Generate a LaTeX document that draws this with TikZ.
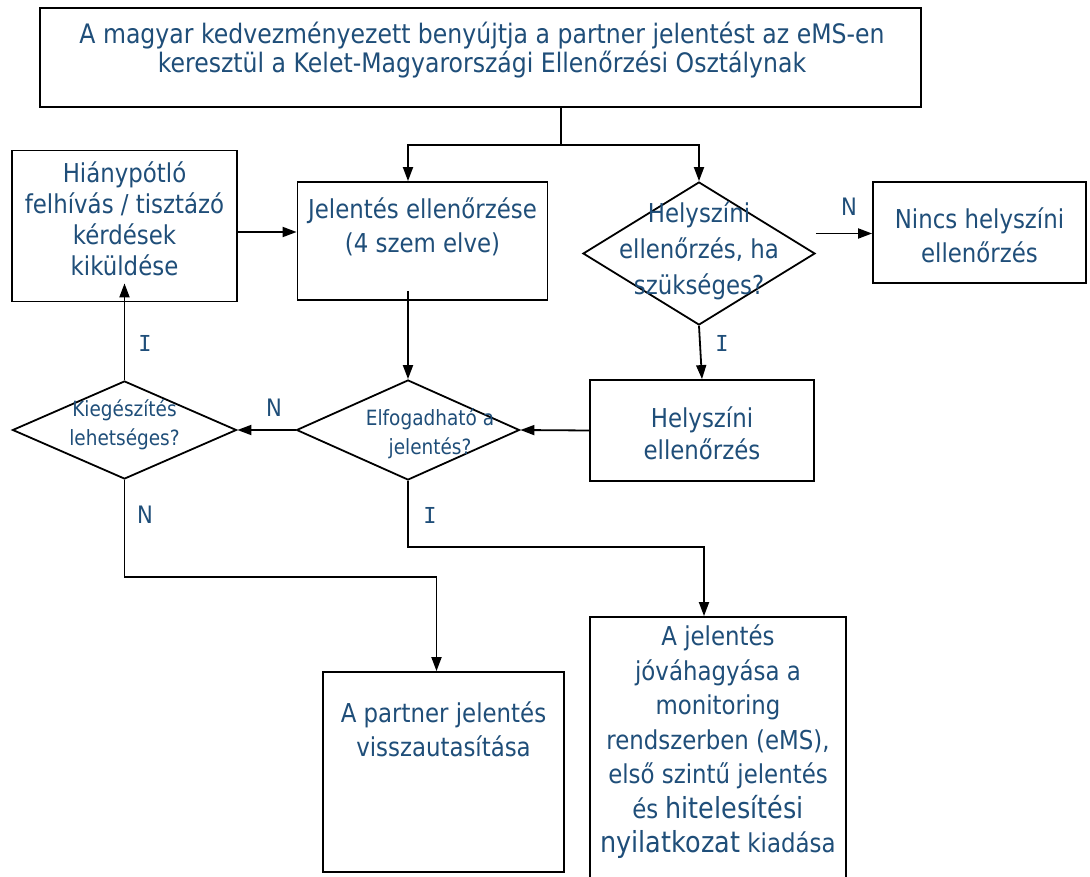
\documentclass[tikz,border=0pt]{standalone}
\usepackage{fontspec}
\setmainfont{DejaVu Sans}[FakeStretch=0.88]
\newfontfamily\labI{DejaVu Sans Mono}
\usetikzlibrary{shapes.geometric,arrows.meta,calc}
\definecolor{txt}{RGB}{31,78,121}
\newcommand\bigw[1]{{\fontsize{29}{34.5}\selectfont #1}}
\begin{document}
\begin{tikzpicture}[x=1pt,y=-1pt,
 box/.style={draw,line width=1.8pt,inner sep=0pt},
 dia/.style={draw,diamond,line width=1.8pt,inner sep=0pt},
 arr/.style={line width=1.8pt,-{Triangle[length=14pt,width=10pt]}},
 ln/.style={line width=1.8pt},
 t/.style={text=txt,align=center,font=\fontsize{26}{32}\selectfont,inner sep=0pt},
 ts/.style={text=txt,align=center,font=\fontsize{21}{29}\selectfont,inner sep=0pt},
 lab/.style={text=txt,font=\fontsize{24}{24}\selectfont,inner sep=0pt},
 labi/.style={text=txt,font=\labI\fontsize{22}{24}\selectfont,inner sep=0pt}]
\useasboundingbox (0,0) rectangle (1090,877);
\fill[white] (0,0) rectangle (1090,877);

% boxes
\node[box,minimum width=881pt,minimum height=99pt] (top) at (480.5,57.5) {};
\node[t,font=\fontsize{26.8}{28.5}\selectfont] (toptxt) at (482,50) {A magyar kedvezményezett benyújtja a partner jelentést az eMS-en\\keresztül a Kelet-Magyarországi Ellenőrzési Osztálynak};

\node[box,minimum width=225pt,minimum height=151pt] (hiany) at (124.5,226) {};
\node[t,font=\fontsize{26}{31}\selectfont] (hiantxt) at (124.5,219) {Hiánypótló\\felhívás / tisztázó\\kérdések\\kiküldése};

\node[box,minimum width=250pt,minimum height=118pt] (jel) at (422.5,241) {};
\node[t,font=\fontsize{26}{34}\selectfont] (jeltxt) at (422.5,227) {Jelentés ellenőrzése\\(4 szem elve)};

\node[dia,minimum width=232pt,minimum height=143pt] (hdia) at (699,253.5) {};
\node[t,font=\fontsize{26}{36}\selectfont] (hdiatxt) at (699,251) {Helyszíni\\ellenőrzés, ha\\szükséges?};

\node[box,minimum width=213pt,minimum height=101pt] (nincs) at (979.5,232.5) {};
\node[t,font=\fontsize{26}{34}\selectfont] (nincstxt) at (979.5,235) {Nincs helyszíni\\ellenőrzés};

\node[dia,minimum width=224pt,minimum height=98pt] (kieg) at (124.5,430) {};
\node[ts] (kiegtxt) at (124.5,425) {Kiegészítés\\lehetséges?};

\node[dia,minimum width=223pt,minimum height=100pt] (elf) at (408,430) {};
\node[ts] (elftxt) at (430,434) {Elfogadható a\\jelentés?};

\node[box,minimum width=224pt,minimum height=101pt] (hely) at (702,430.5) {};
\node[t] (helytxt) at (702,433) {Helyszíni\\ellenőrzés};

\node[box,minimum width=241pt,minimum height=200pt] (partner) at (443.5,772) {};
\node[t,font=\fontsize{26}{34}\selectfont] (partnertxt) at (443.5,729) {A partner jelentés\\visszautasítása};

\node[box,minimum width=256pt,minimum height=280pt] (jova) at (718,757) {};
\node[t,font=\fontsize{26}{34.5}\selectfont] (jovatxt) at (718,742) {A jelentés\\jóváhagyása a\\monitoring\\rendszerben (eMS),\\első szintű jelentés\\és \bigw{hitelesítési}\\\bigw{nyilatkozat} kiadása};

% labels
\node[lab] (lN1) at (849,207) {N};
\node[labi] (lI1) at (722,343) {I};
\node[labi] (lI2) at (145,343) {I};
\node[lab] (lN2) at (274,408) {N};
\node[lab] (lN3) at (145,515) {N};
\node[labi] (lI3) at (430,515) {I};

% connectors
\coordinate (s) at (561,145);
\draw[ln] (s |- top.south) -- (s);
\coordinate (jin) at ($(jel.north)+(-14.5,0)$);
\draw[arr] (s) -| (jin);
\draw[arr] (s) -| (hdia.north);

\coordinate (h1) at ($(hiany.east)+(0,6)$);
\draw[arr] (h1) -- (h1 -| jel.west);

\coordinate (j1) at ($(jel.south)+(-14.5,-10)$);
\draw[arr] (j1) -- (elf.north);

\draw[arr] (elf.west) -- (kieg.east);

\coordinate (hb) at ($(hiany.south)+(0,-19)$);
\draw[arr] (kieg.north) -- (hb);

\coordinate (n1) at ($(hdia.east)+(0,-20)$);
\draw[arr] (n1) -- (n1 -| nincs.west);

\draw[arr] (hdia.south) -- (hely.north);
\draw[arr] (hely.west) -- (elf.east);

\coordinate (e1) at ($(elf.south)+(0,66)$);
\coordinate (j2) at ($(jova.north)+(-14,0)$);
\draw[arr] (elf.south) -- (e1) -| (j2);

\coordinate (k1) at ($(kieg.south)+(0,97)$);
\coordinate (p2) at ($(partner.north)+(-7,0)$);
\draw[arr] (kieg.south) -- (k1) -| (p2);
\end{tikzpicture}
\end{document}
